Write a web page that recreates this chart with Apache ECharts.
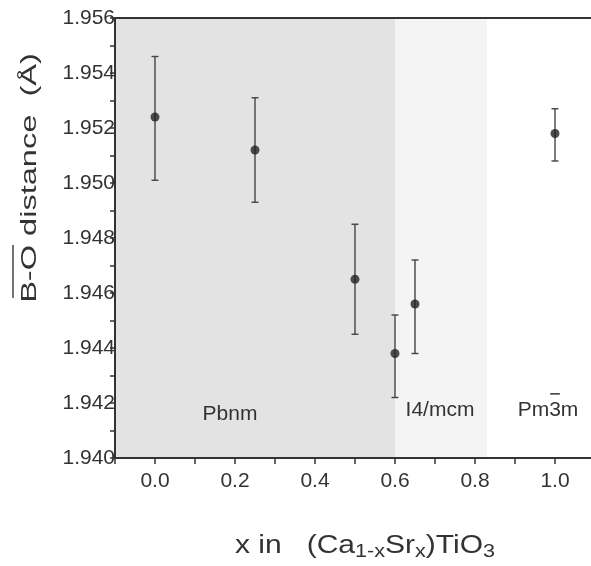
<!DOCTYPE html>
<html>
<head>
<meta charset="utf-8">
<script src="https://cdn.jsdelivr.net/npm/echarts@6/dist/echarts.min.js"></script>
<style>
html,body{margin:0;padding:0;background:#fff;}
#chart{width:591px;height:566px;}
</style>
</head>
<body>
<div id="chart"></div>
<script>
// ---- data ----
const xValues    = [0.0, 0.25, 0.5, 0.6, 0.65, 1.0];
const boDistance = [1.9524, 1.9512, 1.9465, 1.9438, 1.9456, 1.9518];
const errLow     = [1.9501, 1.9493, 1.9445, 1.9422, 1.9438, 1.9508];
const errHigh    = [1.9546, 1.9531, 1.9485, 1.9452, 1.9472, 1.9527];
const phaseBounds = [-0.1, 0.6, 0.83];
const phaseNames  = ['Pbnm', 'I4/mcm', 'Pm3m'];
const phaseBarIdx = [-1, -1, 2];          // character carrying an overbar (3-bar)
const phaseLabelX = [0.1875, 0.7125, 0.9825];
const phaseLabelY = [1.9416, 1.94175, 1.94175];
const yMin = 1.940, yMax = 1.956, yStep = 0.001;
const xMin = -0.1, xMax = 1.1, xStep = 0.1;

const FONT = 'Liberation Sans, Arial, sans-serif';
const TXT = '#333';
const LABEL_FONT = '21px ' + FONT;

const chart = echarts.init(document.getElementById('chart'));

const pointData = xValues.map((x, i) => [x, boDistance[i]]);
const errData = xValues.map((x, i) => [x, errLow[i], errHigh[i]]);
const labelData = phaseNames.map((n, i) => [phaseLabelX[i], phaseLabelY[i], i]);

const measureCtx = document.createElement('canvas').getContext('2d');
function textW(s) { measureCtx.font = LABEL_FONT; return measureCtx.measureText(s).width; }

const option = {
  backgroundColor: '#fff',
  animation: false,
  grid: { left: 115, top: 18, width: 480, height: 440, containLabel: false, outerBoundsMode: 'none' },
  xAxis: [{
    type: 'value', min: xMin, max: xMax, interval: xStep, z: 10,
    axisLine: { show: true, onZero: false, lineStyle: { color: '#333', width: 2 } },
    axisTick: { show: true, inside: false, length: 6, lineStyle: { color: '#333', width: 1.5 } },
    splitLine: { show: false },
    axisLabel: {
      margin: 13, fontSize: 21, color: TXT, fontFamily: FONT,
      formatter: v => {
        const k = Math.round(v * 10);
        return (k >= 0 && k <= 10 && k % 2 === 0) ? (k / 10).toFixed(1) : '';
      }
    }
  }, {
    type: 'value', position: 'top', min: xMin, max: xMax, z: 10,
    axisLine: { show: true, onZero: false, lineStyle: { color: '#333', width: 2 } },
    axisTick: { show: false }, axisLabel: { show: false }, splitLine: { show: false }
  }],
  yAxis: {
    type: 'value', min: yMin, max: yMax, interval: yStep, z: 10,
    axisLine: { show: true, onZero: false, lineStyle: { color: '#333', width: 2 } },
    axisTick: { show: true, inside: false, length: 5, lineStyle: { color: '#333', width: 1.5 } },
    splitLine: { show: false },
    axisLabel: {
      margin: 0, fontSize: 21, color: TXT, fontFamily: FONT,
      formatter: v => {
        const k = Math.round(v * 1000);
        return k % 2 === 0 ? (k / 1000).toFixed(3) : '';
      }
    }
  },
  graphic: [
    {
      type: 'text', x: 30, y: 178, rotation: Math.PI / 2, scaleX: 1.48,
      style: { text: 'B-O distance  (Å)', font: '22px ' + FONT, fill: TXT, textAlign: 'center', textVerticalAlign: 'middle' }
    },
    { type: 'line', shape: { x1: 13, y1: 245, x2: 13, y2: 298 }, style: { stroke: '#444', lineWidth: 1.5 } },
    {
      type: 'text', x: 365, y: 545, scaleX: 1.2,
      style: {
        text: '{a|x in   (Ca}{s|1-x}{a|Sr}{s|x}{a|)TiO}{s|3}',
        textAlign: 'center', textVerticalAlign: 'middle',
        rich: {
          a: { font: '25px ' + FONT, fill: TXT, verticalAlign: 'bottom', lineHeight: 28 },
          s: { font: '18px ' + FONT, fill: TXT, verticalAlign: 'bottom', lineHeight: 22, padding: [0, 0, -2, 0] }
        }
      }
    }
  ],
  series: [
    {
      type: 'line', data: [], silent: true,
      markArea: {
        silent: true,
        data: [
          [{ xAxis: phaseBounds[0], itemStyle: { color: '#e3e3e3' } }, { xAxis: phaseBounds[1] }],
          [{ xAxis: phaseBounds[1], itemStyle: { color: '#f4f4f4' } }, { xAxis: phaseBounds[2] }]
        ]
      }
    },
    {
      type: 'custom', data: errData, z: 3,
      renderItem: (params, api) => {
        const x = api.value(0);
        const lo = api.coord([x, api.value(1)]);
        const hi = api.coord([x, api.value(2)]);
        const cap = 3.5;
        const st = { stroke: '#444', lineWidth: 1.4 };
        return {
          type: 'group', children: [
            { type: 'line', shape: { x1: lo[0], y1: lo[1], x2: hi[0], y2: hi[1] }, style: st },
            { type: 'line', shape: { x1: lo[0] - cap, y1: lo[1], x2: lo[0] + cap, y2: lo[1] }, style: st },
            { type: 'line', shape: { x1: hi[0] - cap, y1: hi[1], x2: hi[0] + cap, y2: hi[1] }, style: st }
          ]
        };
      }
    },
    {
      type: 'scatter', data: pointData, symbol: 'circle', symbolSize: 9, z: 4,
      itemStyle: { color: '#222' }
    },
    {
      type: 'custom', data: labelData, z: 5, silent: true,
      renderItem: (params, api) => {
        const i = api.value(2);
        const name = phaseNames[i];
        const c = api.coord([api.value(0), api.value(1)]);
        const children = [{
          type: 'text', x: c[0], y: c[1],
          style: { text: name, font: LABEL_FONT, fill: TXT, textAlign: 'center', textVerticalAlign: 'middle' }
        }];
        const bi = phaseBarIdx[i];
        if (bi >= 0) {
          const W = textW(name);
          const left = c[0] - W / 2 + textW(name.slice(0, bi));
          const wc = textW(name[bi]);
          children.push({
            type: 'line',
            shape: { x1: left + 1, y1: c[1] - 16, x2: left + wc - 1, y2: c[1] - 16 },
            style: { stroke: TXT, lineWidth: 1.5 }
          });
        }
        return { type: 'group', children };
      }
    }
  ]
};
chart.setOption(option);
</script>
</body>
</html>
